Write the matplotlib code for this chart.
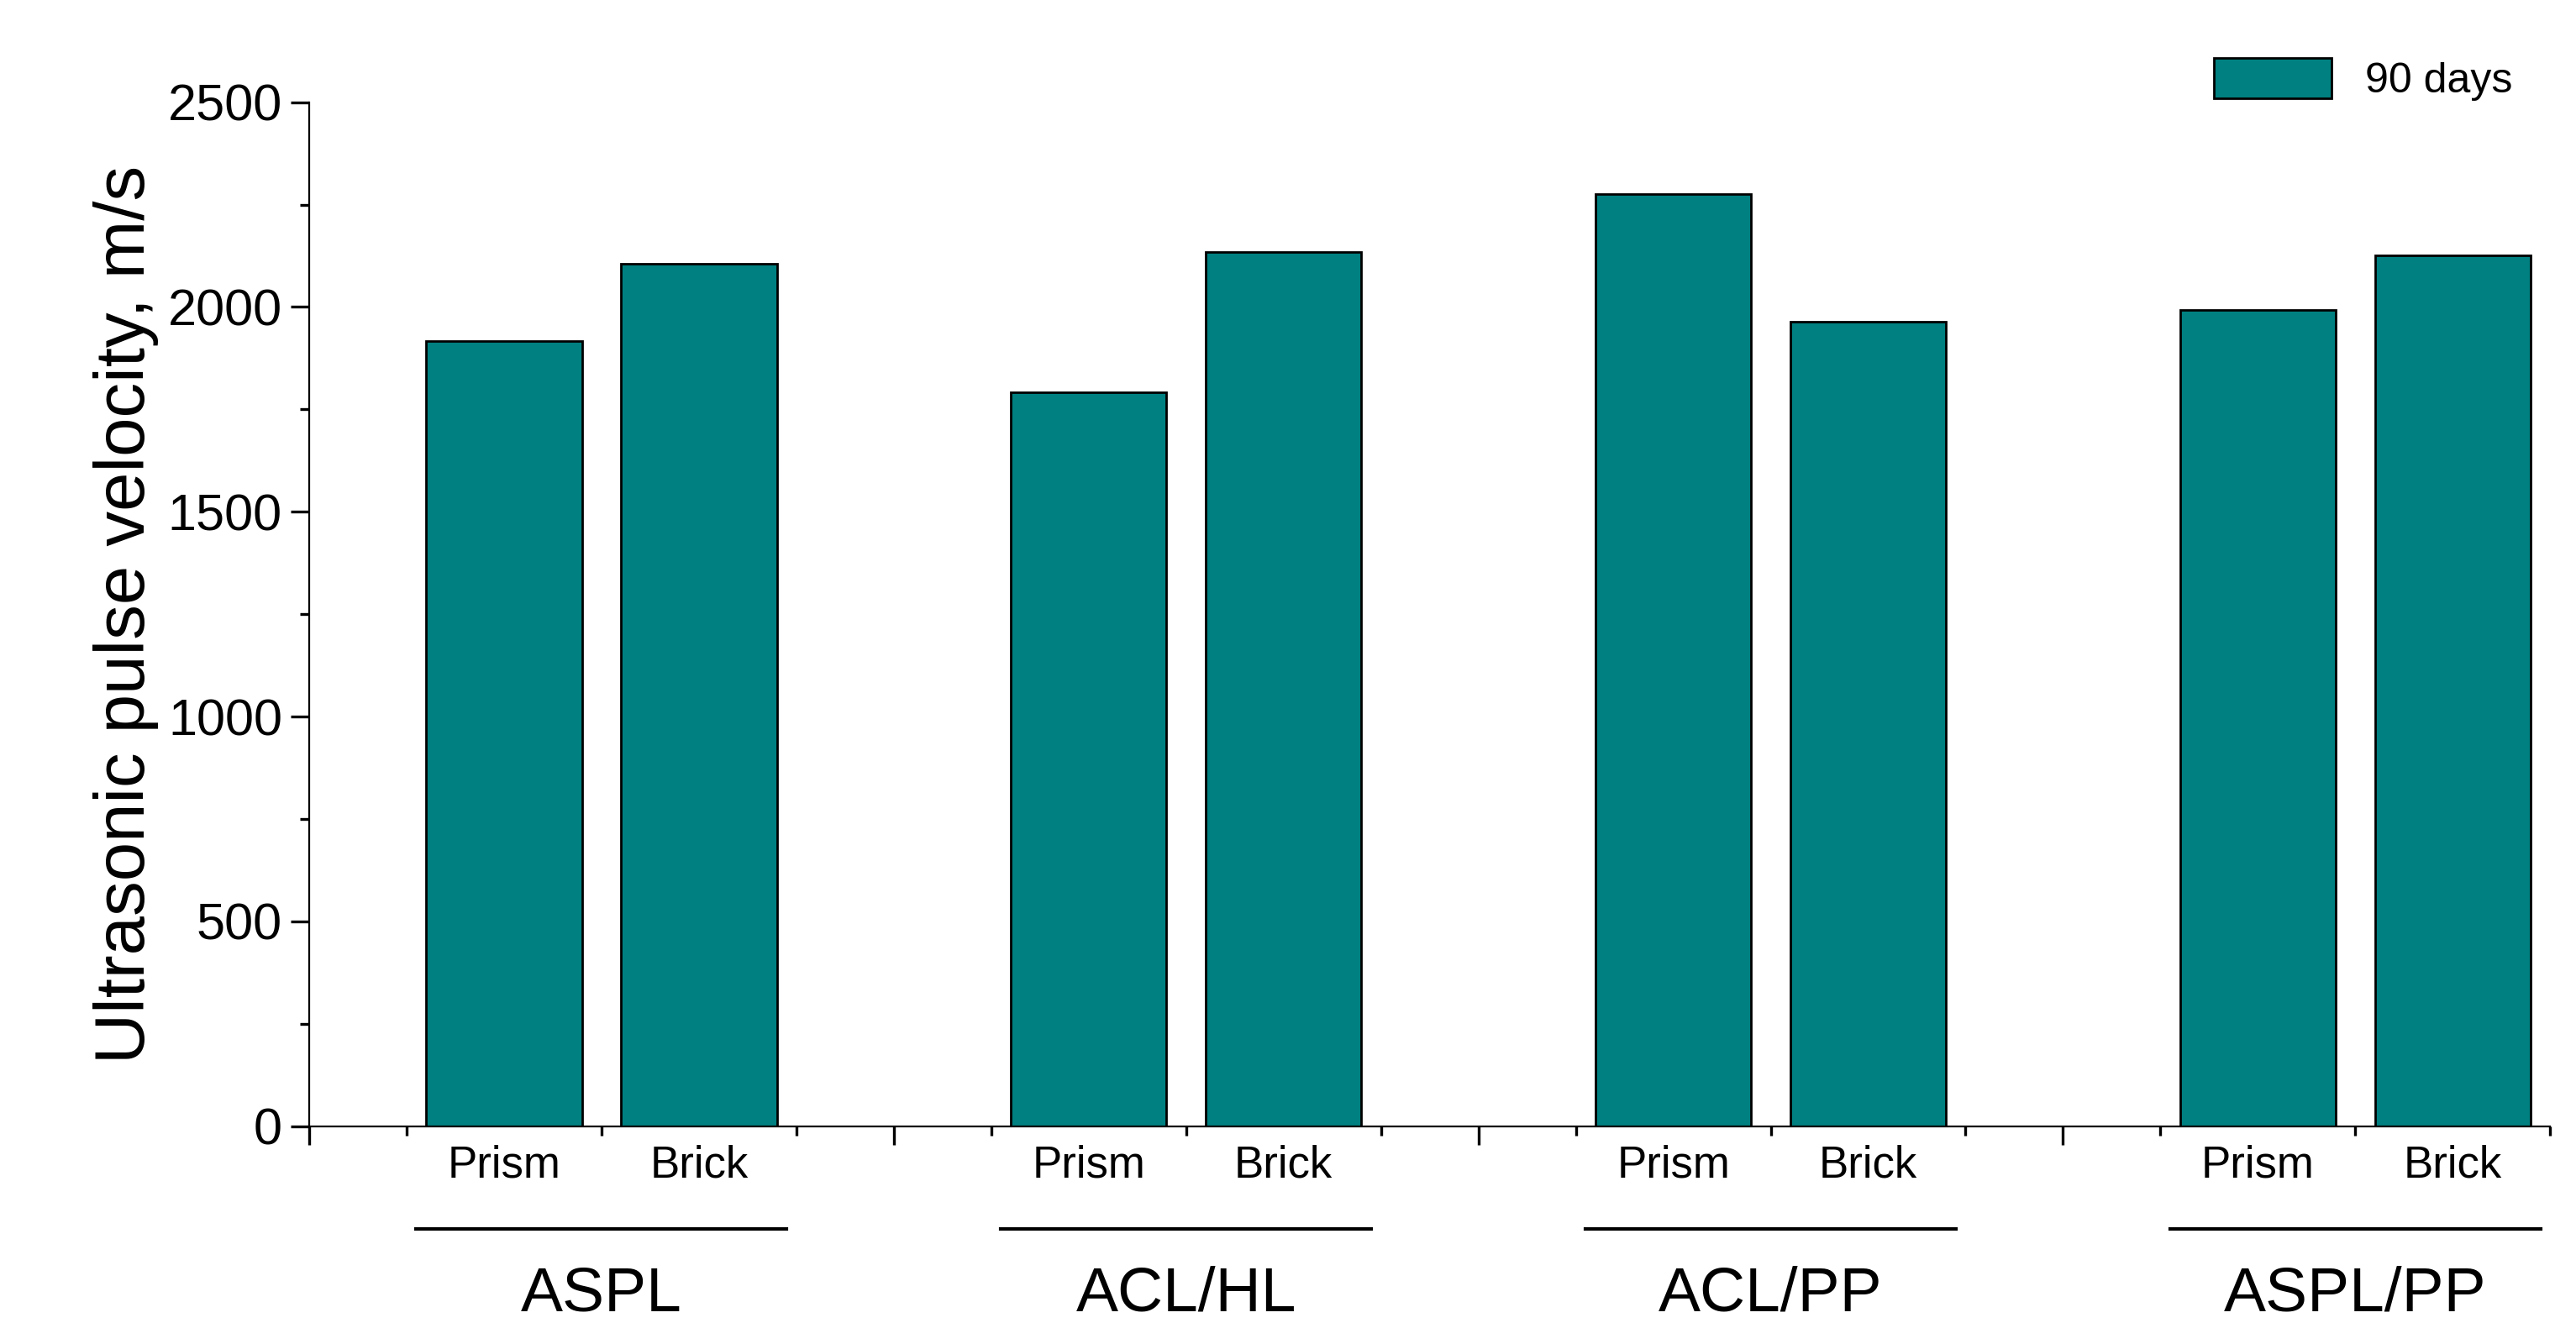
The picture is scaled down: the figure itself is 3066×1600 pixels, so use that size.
import matplotlib.pyplot as plt
from matplotlib.ticker import MultipleLocator, FixedLocator

groups = ["ASPL", "ACL/HL", "ACL/PP", "ASPL/PP"]
samples = ["Prism", "Brick"]
velocity = [1916, 2105, 1791, 2134, 2275, 1965, 1993, 2126]

plt.rcParams['font.family'] = ['Liberation Sans', 'DejaVu Sans']
fig = plt.figure(figsize=(15.33, 8), dpi=200)
ax = fig.add_axes([0.12, 0.162, 0.87, 0.762])

xpos = []
for g in range(len(groups)):
    xpos += [3 * g + 1, 3 * g + 2]
ax.bar(xpos, velocity, width=0.8, color="#008080", edgecolor="black", linewidth=1,
       label="90 days")

ax.set_xlim(0, 11.5)
ax.set_ylim(0, 2500)
ax.spines['top'].set_visible(False)
ax.spines['right'].set_visible(False)
ax.yaxis.set_major_locator(MultipleLocator(500))
ax.yaxis.set_minor_locator(MultipleLocator(250))
ax.xaxis.set_major_locator(FixedLocator([0, 3, 6, 9]))
ax.xaxis.set_minor_locator(FixedLocator([0.5, 1.5, 2.5, 3.5, 4.5, 5.5, 6.5, 7.5, 8.5, 9.5, 10.5, 11.5]))
ax.set_xticklabels([])
ax.tick_params(axis='both', which='major', length=8, width=1.2, labelsize=22)
ax.tick_params(axis='both', which='minor', length=4, width=1.2)
ax.set_ylabel("Ultrasonic pulse velocity, m/s", fontsize=30)

for i, x in enumerate(xpos):
    ax.text(x, -95, samples[i % 2], ha='center', va='center', fontsize=19,
            transform=ax.transData, clip_on=False)
for g, name in enumerate(groups):
    x0, x1 = 3 * g + 0.55, 3 * g + 2.45
    ax.plot([x0, x1], [-250, -250], color='black', linewidth=1.5, clip_on=False)
    ax.text(3 * g + 1.5, -410, name, ha='center', va='center', fontsize=27, clip_on=False)

ax.legend(loc='upper right', frameon=False, fontsize=18, bbox_to_anchor=(1.0, 1.08),
          handlelength=2.8, handleheight=1.1)

fig.savefig("out.png", dpi=200)
